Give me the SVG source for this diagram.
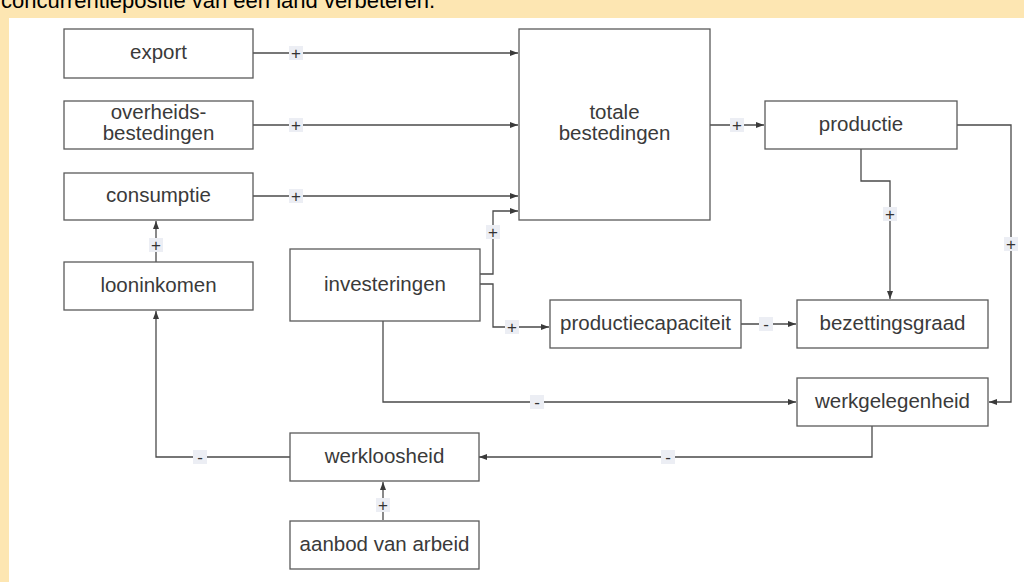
<svg xmlns="http://www.w3.org/2000/svg" width="1024" height="582" viewBox="0 0 1024 582">
<style>
.box{fill:#fff;stroke:#5a5a5a;stroke-width:1.3}
.lbl{font-family:"Liberation Sans",Arial,sans-serif;font-size:20.5px;fill:#3a3a3a;text-anchor:middle}
.con{fill:none;stroke:#4a4a4a;stroke-width:1.3}
.sg{fill:#eceef4}
.st{font-family:"Liberation Sans",Arial,sans-serif;font-size:17px;fill:#333;text-anchor:middle}
</style>
<defs>
<marker id="ah" markerUnits="userSpaceOnUse" markerWidth="9" markerHeight="7" refX="8" refY="3" orient="auto">
<path d="M0,0 L8,3 L0,6 z" fill="#3a3a3a"/>
</marker>
</defs>
<rect x="0" y="0" width="1024" height="582" fill="#fde6b2"/>
<rect x="9" y="18" width="1015" height="564" fill="#ffffff"/>
<text x="1" y="8" font-family="'Liberation Sans',Arial,sans-serif" font-size="22" fill="#000">concurrentiepositie van een land verbeteren.</text>

<g id="connectors">
<path class="con" d="M253,53 H518" marker-end="url(#ah)"/>
<path class="con" d="M253,125 H518" marker-end="url(#ah)"/>
<path class="con" d="M253,196 H518" marker-end="url(#ah)"/>
<path class="con" d="M480,274 H493 V211 H518" marker-end="url(#ah)"/>
<path class="con" d="M480,284 H493 V327 H549" marker-end="url(#ah)"/>
<path class="con" d="M710,125 H764" marker-end="url(#ah)"/>
<path class="con" d="M861,149 V181 H890 V299" marker-end="url(#ah)"/>
<path class="con" d="M957,125 H1011 V402 H989" marker-end="url(#ah)"/>
<path class="con" d="M741,324 H796" marker-end="url(#ah)"/>
<path class="con" d="M383,321 V402 H796" marker-end="url(#ah)"/>
<path class="con" d="M872,426 V457 H479" marker-end="url(#ah)"/>
<path class="con" d="M290,457 H156 V311" marker-end="url(#ah)"/>
<path class="con" d="M156,262 V221" marker-end="url(#ah)"/>
<path class="con" d="M383,520 V482" marker-end="url(#ah)"/>
<g id="signs">
<rect class="sg" x="289" y="46" width="14" height="14"/><text class="st" x="296" y="59">+</text>
<rect class="sg" x="289" y="118" width="14" height="14"/><text class="st" x="296" y="131">+</text>
<rect class="sg" x="289" y="189" width="14" height="14"/><text class="st" x="296" y="202">+</text>
<rect class="sg" x="486" y="225" width="14" height="14"/><text class="st" x="493" y="238">+</text>
<rect class="sg" x="505" y="320" width="14" height="14"/><text class="st" x="512" y="333">+</text>
<rect class="sg" x="730" y="118" width="14" height="14"/><text class="st" x="737" y="131">+</text>
<rect class="sg" x="883" y="207" width="14" height="14"/><text class="st" x="890" y="220">+</text>
<rect class="sg" x="1004" y="237" width="14" height="14"/><text class="st" x="1011" y="250">+</text>
<rect class="sg" x="759" y="317" width="14" height="14"/><text class="st" x="766" y="330">-</text>
<rect class="sg" x="530" y="395" width="14" height="14"/><text class="st" x="537" y="408">-</text>
<rect class="sg" x="661" y="450" width="14" height="14"/><text class="st" x="668" y="463">-</text>
<rect class="sg" x="193" y="450" width="14" height="14"/><text class="st" x="200" y="463">-</text>
<rect class="sg" x="149" y="238" width="14" height="14"/><text class="st" x="156" y="251">+</text>
<rect class="sg" x="376" y="498" width="14" height="14"/><text class="st" x="383" y="511">+</text>
</g>
</g>

<g id="export"><rect class="box" x="64" y="29" width="189" height="49"/><text class="lbl" x="158.5" y="59">export</text></g>
<g id="overheidsbestedingen"><rect class="box" x="64" y="101" width="189" height="48"/><text class="lbl" x="158.5" y="119">overheids-</text><text class="lbl" x="158.5" y="140">bestedingen</text></g>
<g id="consumptie"><rect class="box" x="64" y="173" width="189" height="47"/><text class="lbl" x="158.5" y="202">consumptie</text></g>
<g id="looninkomen"><rect class="box" x="64" y="262" width="189" height="48"/><text class="lbl" x="158.5" y="292">looninkomen</text></g>
<g id="investeringen"><rect class="box" x="290" y="249" width="190" height="72"/><text class="lbl" x="385" y="291">investeringen</text></g>
<g id="totalebestedingen"><rect class="box" x="519" y="29" width="191" height="191"/><text class="lbl" x="614.5" y="119">totale</text><text class="lbl" x="614.5" y="140">bestedingen</text></g>
<g id="productie"><rect class="box" x="765" y="101" width="192" height="48"/><text class="lbl" x="861" y="131">productie</text></g>
<g id="productiecapaciteit"><rect class="box" x="550" y="300" width="191" height="48"/><text class="lbl" x="645.5" y="330">productiecapaciteit</text></g>
<g id="bezettingsgraad"><rect class="box" x="797" y="300" width="191" height="48"/><text class="lbl" x="892.5" y="330">bezettingsgraad</text></g>
<g id="werkgelegenheid"><rect class="box" x="797" y="378" width="191" height="48"/><text class="lbl" x="892.5" y="408">werkgelegenheid</text></g>
<g id="werkloosheid"><rect class="box" x="290" y="433" width="189" height="48"/><text class="lbl" x="384.5" y="463">werkloosheid</text></g>
<g id="aanbodvanarbeid"><rect class="box" x="290" y="521" width="189" height="48"/><text class="lbl" x="384.5" y="551">aanbod van arbeid</text></g>
</svg>
